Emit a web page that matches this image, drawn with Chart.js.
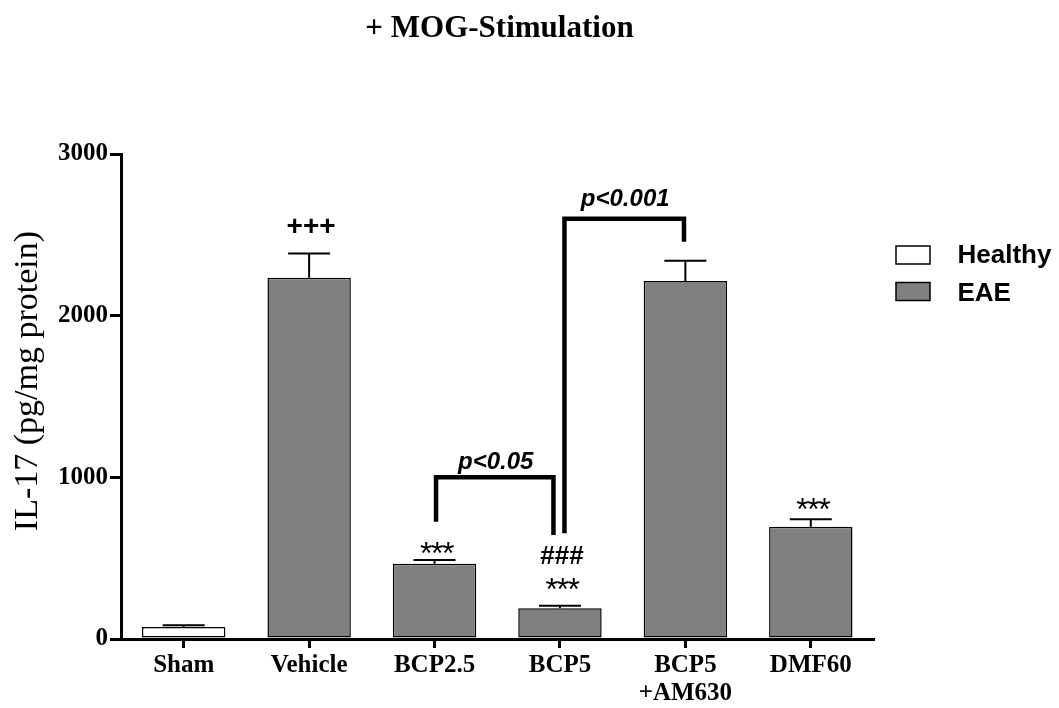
<!DOCTYPE html>
<html><head><meta charset="utf-8">
<script src="https://cdn.jsdelivr.net/npm/chart.js@4.4.1/dist/chart.umd.min.js"></script>
<style>html,body{margin:0;padding:0;background:#fff;}#wrap{width:1059px;height:708px;position:relative;}</style>
</head><body><div id="wrap"><canvas id="c" width="1059" height="708"></canvas></div>
<script>
// ---- data ----
const categories = ['Sham', 'Vehicle', 'BCP2.5', 'BCP5', ['BCP5', '+AM630'], 'DMF60'];
const healthyValues = [75, null, null, null, null, null];
const eaeValues = [null, 2235, 465, 190, 2215, 695];
const errorValues = [10, 150, 23, 16, 125, 45];
const yTicks = [0, 1000, 2000, 3000];
const sigMarks = ['', '+++', '***', '***', '', '***'];
const hashMarks = ['', '', '', '###', '', ''];
const bracketPairs = [[2, 3], [3, 4]];
const bracketTops = [1000, 2600];
const bracketLeftEnds = [725, 654];
const bracketRightEnds = [643, 2457];
const bracketLabels = ['p<0.05', 'p<0.001'];
const chartTitle = '+ MOG-Stimulation';
const yTitle = 'IL-17 (pg/mg protein)';

const SERIF = "'Liberation Serif', 'Times New Roman', serif";
const SANS = "'Liberation Sans', Arial, sans-serif";

function centeredGlyphText(ctx, text, x, cy) {
  ctx.textAlign = 'center'; ctx.textBaseline = 'alphabetic';
  const m = ctx.measureText(text);
  const base = cy + (m.actualBoundingBoxAscent - m.actualBoundingBoxDescent) / 2;
  ctx.fillText(text, x, base);
}

const extras = {
  id: 'extras',
  afterDatasetsDraw(chart) {
    const ctx = chart.ctx, xs = chart.scales.x, ys = chart.scales.y;
    ctx.save();
    ctx.strokeStyle = '#000';
    ctx.lineWidth = 2;
    errorValues.forEach((e, i) => {
      const v = eaeValues[i] != null ? eaeValues[i] : healthyValues[i];
      const x = xs.getPixelForValue(i);
      const y0 = ys.getPixelForValue(v);
      const y1 = ys.getPixelForValue(v + e);
      ctx.beginPath();
      ctx.moveTo(x, y0); ctx.lineTo(x, y1);
      ctx.moveTo(x - 21, y1); ctx.lineTo(x + 21, y1);
      ctx.stroke();
    });
    ctx.restore();
  },
  afterDraw(chart) {
    const ctx = chart.ctx, xs = chart.scales.x, ys = chart.scales.y;
    ctx.save();
    ctx.fillStyle = '#000';
    // significance marks (glyph centre placed a few px above the error cap)
    const sigGaps = [0, 27.8, 12, 21.2, 0, 15.8];
    sigMarks.forEach((m, i) => {
      if (!m) return;
      const v = eaeValues[i] != null ? eaeValues[i] : healthyValues[i];
      const cap = ys.getPixelForValue(v + errorValues[i]);
      if (m === '***') { ctx.font = `32px ${SANS}`; ctx.letterSpacing = '-1.5px'; }
      else { ctx.font = `bold 28px ${SANS}`; ctx.letterSpacing = '0px'; }
      centeredGlyphText(ctx, m, xs.getPixelForValue(i) + 2, cap - sigGaps[i]);
    });
    ctx.letterSpacing = '0px';
    hashMarks.forEach((m, i) => {
      if (!m) return;
      const v = eaeValues[i] != null ? eaeValues[i] : healthyValues[i];
      const cap = ys.getPixelForValue(v + errorValues[i]);
      ctx.font = `bold 26px ${SANS}`;
      centeredGlyphText(ctx, m, xs.getPixelForValue(i) + 2, cap - 50.7);
    });
    // brackets
    const xOff = [[1.5, -6.5], [4.5, -1.4]];
    const labOff = [8.5, 12.3];
    ctx.lineWidth = 4.5;
    ctx.strokeStyle = '#000';
    ctx.lineJoin = 'miter'; ctx.lineCap = 'butt';
    bracketPairs.forEach((p, k) => {
      const xa = xs.getPixelForValue(p[0]) + xOff[k][0];
      const xb = xs.getPixelForValue(p[1]) + xOff[k][1];
      const yt = ys.getPixelForValue(bracketTops[k]);
      ctx.beginPath();
      ctx.moveTo(xa, ys.getPixelForValue(bracketLeftEnds[k]));
      ctx.lineTo(xa, yt); ctx.lineTo(xb, yt);
      ctx.lineTo(xb, ys.getPixelForValue(bracketRightEnds[k]));
      ctx.stroke();
      ctx.font = `italic bold 24px ${SANS}`;
      ctx.textAlign = 'center'; ctx.textBaseline = 'alphabetic';
      ctx.fillText(bracketLabels[k], (xa + xb) / 2 + 1, yt - labOff[k]);
    });
    // legend
    const ds = chart.data.datasets;
    const ly = [246, 282.5], lb = [263.3, 300.7];
    ds.forEach((d, k) => {
      ctx.fillStyle = d.backgroundColor;
      ctx.fillRect(896, ly[k], 34, 18);
      ctx.lineWidth = 1.5; ctx.strokeStyle = '#000';
      ctx.strokeRect(896, ly[k], 34, 18);
      ctx.fillStyle = '#000';
      ctx.font = `bold 26px ${SANS}`;
      ctx.textAlign = 'left'; ctx.textBaseline = 'alphabetic';
      ctx.fillText(d.label, 957.5, lb[k]);
    });
    // title
    ctx.font = `bold 31px ${SERIF}`;
    ctx.textAlign = 'center'; ctx.textBaseline = 'alphabetic';
    ctx.fillText(chartTitle, 499.5, 36.7);
    // y title
    ctx.translate(37, 381);
    ctx.rotate(-Math.PI / 2);
    ctx.font = `34px ${SERIF}`;
    ctx.fillText(yTitle, 0, 0);
    ctx.restore();
  }
};

new Chart(document.getElementById('c'), {
  type: 'bar',
  data: {
    labels: categories,
    datasets: [
      { label: 'Healthy', data: healthyValues, backgroundColor: '#ffffff', borderColor: '#000', borderWidth: 1.5, borderSkipped: false, grouped: false, barPercentage: 0.665, categoryPercentage: 1 },
      { label: 'EAE', data: eaeValues, backgroundColor: '#808080', borderColor: '#000', borderWidth: 1.5, borderSkipped: false, grouped: false, barPercentage: 0.665, categoryPercentage: 1 }
    ]
  },
  options: {
    responsive: false, animation: false, devicePixelRatio: 1,
    layout: { padding: { top: 154, right: 185.5, bottom: 0, left: 0 } },
    plugins: { legend: { display: false }, title: { display: false }, tooltip: { enabled: false } },
    scales: {
      x: {
        grid: { display: true, drawOnChartArea: false, offset: false, color: '#000', lineWidth: 3, tickLength: 9 },
        border: { display: true, color: '#000', width: 3 },
        ticks: { color: '#000', font: { family: SERIF, size: 25, weight: 'bold', lineHeight: 1.12 }, padding: 3.5, maxRotation: 0, autoSkip: false },
        afterFit(s) { s.height = 69; }
      },
      y: {
        min: 0, max: 3000,
        afterBuildTicks(s) { s.ticks = yTicks.map(v => ({ value: v })); },
        grid: { drawOnChartArea: false, color: '#000', lineWidth: 3, tickLength: 11 },
        border: { display: true, color: '#000', width: 3 },
        ticks: { color: '#000', font: { family: SERIF, size: 25, weight: 'bold' }, padding: 2, callback: v => String(v) },
        afterFit(s) { s.width = 121; }
      }
    }
  },
  plugins: [extras]
});
</script></body></html>
